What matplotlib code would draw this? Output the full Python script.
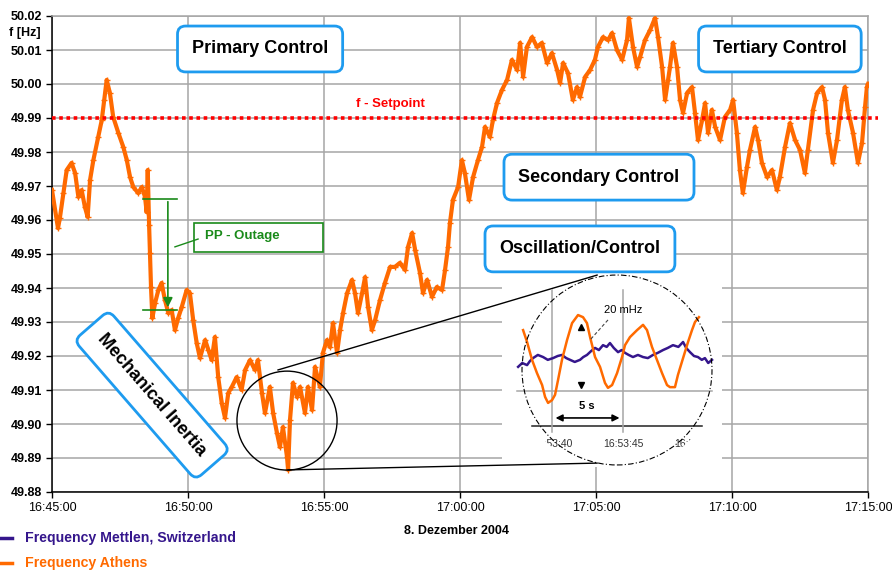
import matplotlib.pyplot as plt
from matplotlib.patches import Rectangle, Ellipse, PathPatch
from matplotlib.path import Path
from matplotlib.transforms import Affine2D
from matplotlib.lines import Line2D

plt.rcParams['font.family'] = ['Liberation Sans', 'DejaVu Sans']

# --- main trace: minutes after 16:45:00, frequency in Hz ---
minutes = [0.00, 0.22, 0.29, 0.42, 0.54, 0.72, 0.85, 0.97, 1.09, 1.21, 1.31, 1.40, 1.52, 1.70, 1.83,
           1.92, 2.01, 2.13, 2.25, 2.44, 2.62, 2.75, 2.87, 2.99, 3.17, 3.30, 3.42, 3.48, 3.52, 3.57,
           3.60, 3.64, 3.69, 3.79, 3.91, 4.03, 4.15, 4.28, 4.40, 4.52, 4.64, 4.77, 4.95, 5.07, 5.19,
           5.32, 5.44, 5.63, 5.75, 5.87, 5.99, 6.11, 6.24, 6.36, 6.48, 6.61, 6.79, 6.97, 7.10, 7.28,
           7.46, 7.57, 7.72, 7.83, 8.01, 8.13, 8.27, 8.38, 8.49, 8.64, 8.68, 8.75, 8.86, 9.01, 9.12,
           9.30, 9.41, 9.56, 9.67, 9.85, 9.96, 10.11, 10.22, 10.33, 10.48, 10.59, 10.70, 10.85, 11.03,
           11.14, 11.25, 11.40, 11.51, 11.62, 11.76, 11.88, 12.06, 12.24, 12.43, 12.61, 12.79, 12.98,
           13.09, 13.24, 13.35, 13.53, 13.64, 13.79, 13.97, 14.15, 14.34, 14.45, 14.56, 14.63, 14.74,
           14.93, 15.07, 15.18, 15.33, 15.48, 15.66, 15.81, 15.92, 16.10, 16.21, 16.36, 16.54, 16.73,
           16.91, 17.10, 17.21, 17.32, 17.46, 17.65, 17.83, 18.01, 18.20, 18.38, 18.57, 18.68, 18.79,
           18.97, 19.15, 19.30, 19.41, 19.60, 19.78, 19.96, 20.07, 20.26, 20.44, 20.59, 20.77, 20.96,
           21.14, 21.21, 21.36, 21.51, 21.62, 21.80, 21.99, 22.17, 22.28, 22.43, 22.54, 22.65, 22.72,
           22.83, 22.98, 23.09, 23.20, 23.35, 23.53, 23.64, 23.75, 23.90, 24.01, 24.12, 24.26, 24.38,
           24.56, 24.74, 24.93, 25.04, 25.18, 25.29, 25.40, 25.55, 25.66, 25.85, 25.96, 26.10, 26.29,
           26.47, 26.65, 26.76, 26.95, 27.13, 27.32, 27.50, 27.68, 27.79, 27.98, 28.13, 28.31, 28.42,
           28.53, 28.71, 28.86, 29.04, 29.15, 29.26, 29.45, 29.63, 29.78, 29.89, 29.96, 30.00]
freq_athens = [49.9688, 49.9576, 49.9606, 49.9679, 49.9747, 49.9768, 49.9738, 49.9668, 49.9688, 49.9638,
               49.9609, 49.9718, 49.9776, 49.9844, 49.9894, 49.9953, 50.0012, 49.9973, 49.9903, 49.9856,
               49.9815, 49.9776, 49.9726, 49.9697, 49.9679, 49.9697, 49.9668, 49.9623, 49.9747, 49.9585,
               49.9503, 49.9403, 49.9312, 49.9356, 49.9394, 49.9415, 49.9365, 49.9326, 49.9335, 49.9276,
               49.9312, 49.9344, 49.9394, 49.9385, 49.9306, 49.9238, 49.9194, 49.9247, 49.9218, 49.9188,
               49.9256, 49.9138, 49.9062, 49.9018, 49.9091, 49.9109, 49.9138, 49.9100, 49.9159, 49.9188,
               49.9159, 49.9188, 49.9091, 49.9032, 49.9109, 49.9032, 49.8974, 49.8932, 49.8991, 49.8903,
               49.8865, 49.9012, 49.9121, 49.9079, 49.9109, 49.9032, 49.9109, 49.9041, 49.9168, 49.9109,
               49.9209, 49.9247, 49.9226, 49.9297, 49.9209, 49.9276, 49.9326, 49.9385, 49.9424, 49.9385,
               49.9326, 49.9385, 49.9432, 49.9344, 49.9276, 49.9306, 49.9365, 49.9415, 49.9462, 49.9462,
               49.9474, 49.9453, 49.9521, 49.9562, 49.9512, 49.9444, 49.9385, 49.9424, 49.9374, 49.9403,
               49.9394, 49.9453, 49.9521, 49.9591, 49.9659, 49.9697, 49.9776, 49.9738, 49.9659, 49.9726,
               49.9776, 49.9815, 49.9874, 49.9844, 49.9894, 49.9944, 49.9982, 50.0012, 50.0071, 50.0041,
               50.0121, 50.0021, 50.0109, 50.0138, 50.0109, 50.0121, 50.0062, 50.0091, 50.0041, 50.0003,
               50.0062, 50.0032, 49.9953, 49.9991, 49.9962, 50.0021, 50.0041, 50.0071, 50.0109, 50.0138,
               50.0129, 50.0150, 50.0100, 50.0071, 50.0129, 50.0194, 50.0109, 50.0050, 50.0079, 50.0129,
               50.0159, 50.0194, 50.0138, 50.0050, 49.9953, 50.0012, 50.0050, 50.0121, 50.0050, 49.9953,
               49.9915, 49.9974, 49.9991, 49.9915, 49.9835, 49.9894, 49.9944, 49.9856, 49.9924, 49.9874,
               49.9835, 49.9903, 49.9924, 49.9953, 49.9856, 49.9747, 49.9679, 49.9756, 49.9806, 49.9874,
               49.9835, 49.9768, 49.9726, 49.9747, 49.9688, 49.9726, 49.9815, 49.9885, 49.9835, 49.9806,
               49.9738, 49.9806, 49.9924, 49.9974, 49.9991, 49.9953, 49.9856, 49.9768, 49.9835, 49.9953,
               49.9991, 49.9924, 49.9856, 49.9768, 49.9826, 49.9932, 49.9991, 50.0000]
# Mettlen follows Athens almost exactly at this scale and is drawn underneath it
freq_mettlen = freq_athens

setpoint = 49.99
y_ticks = [49.88, 49.89, 49.90, 49.91, 49.92, 49.93, 49.94, 49.95, 49.96, 49.97, 49.98, 49.99,
           50.00, 50.01, 50.02]
x_ticks = [0, 5, 10, 15, 20, 25, 30]
time_labels = ['16:45:00', '16:50:00', '16:55:00', '17:00:00', '17:05:00', '17:10:00', '17:15:00']

# --- zoomed oscillation: seconds after 16:53:00 ---
zoom_sec_athens = [37.96, 38.24, 38.59, 38.94, 39.30, 39.51, 39.72, 40.00, 40.21, 40.42, 40.70, 41.06,
                   41.41, 41.83, 42.18, 42.46, 42.68, 43.03, 43.38, 43.73, 43.94, 44.23, 44.58, 44.93,
                   45.14, 45.49, 45.99, 46.41, 46.69, 47.04, 47.39, 47.75, 48.10, 48.31, 48.66, 48.87,
                   49.23, 49.58, 49.86, 50.07, 50.35]
zoom_f_athens = [49.9174, 49.9140, 49.9089, 49.9051, 49.9017, 49.8983, 49.8966, 49.8974, 49.8989, 49.9031,
                 49.9089, 49.9146, 49.9194, 49.9217, 49.9211, 49.9194, 49.9154, 49.9097, 49.9069, 49.9023,
                 49.9009, 49.9017, 49.9051, 49.9097, 49.9131, 49.9154, 49.9174, 49.9189, 49.9174, 49.9126,
                 49.9089, 49.9051, 49.9017, 49.9011, 49.9011, 49.9046, 49.9094, 49.9140, 49.9174, 49.9197,
                 49.9211]
zoom_sec_mettlen = [37.61, 37.90, 38.24, 38.45, 38.66, 39.00, 39.37, 39.70, 40.07, 40.40, 40.70, 41.00,
                    41.27, 41.60, 41.97, 42.20, 42.46, 42.75, 43.03, 43.30, 43.59, 43.85, 44.08, 44.35,
                    44.65, 44.90, 45.14, 45.40, 45.70, 46.05, 46.41, 46.75, 47.11, 47.45, 47.82, 48.15,
                    48.52, 48.90, 49.23, 49.45, 49.72, 50.00, 50.28, 50.55, 50.77, 51.00, 51.27]
zoom_f_mettlen = [49.9069, 49.9080, 49.9074, 49.9086, 49.9094, 49.9103, 49.9097, 49.9089, 49.9094, 49.9100,
                  49.9103, 49.9094, 49.9089, 49.9083, 49.9089, 49.9097, 49.9103, 49.9114, 49.9123, 49.9117,
                  49.9131, 49.9126, 49.9137, 49.9123, 49.9111, 49.9117, 49.9109, 49.9103, 49.9097, 49.9103,
                  49.9097, 49.9094, 49.9103, 49.9109, 49.9117, 49.9123, 49.9131, 49.9126, 49.9140, 49.9123,
                  49.9111, 49.9100, 49.9097, 49.9089, 49.9094, 49.9080, 49.9089]
zoom_ticks = [40, 45, 50]
zoom_labels = ['16:53:40', '16:53:45', '16:53:50']

ORANGE = '#FF6A00'
PURPLE = '#35168C'
BLUE = '#1E9BEF'
GREEN = '#1A8A1A'
GRID = '#A6A6A6'

fig = plt.figure(figsize=(8.92, 5.71), dpi=100)
ax = fig.add_axes([52 / 892, 1 - 492 / 571, 816 / 892, 476 / 571])

ax.set_xlim(0, 30)
ax.set_ylim(49.88, 50.02)
ax.set_yticks(y_ticks)
ax.set_yticklabels([f'{v:.2f}' for v in y_ticks], fontweight='bold', fontsize=9)
ax.set_xticks(x_ticks)
ax.set_xticklabels(time_labels, fontsize=9)
ax.tick_params(axis='both', direction='out', length=4, width=1, pad=3, color='black')
ax.grid(True, color=GRID, linewidth=1.1)
ax.set_axisbelow(True)
for side in ['top', 'right']:
    ax.spines[side].set_color(GRID)
    ax.spines[side].set_linewidth(1.1)
for side in ['left', 'bottom']:
    ax.spines[side].set_linewidth(1.1)

# blank panel behind the zoomed view
ax.add_patch(Rectangle((16.54, 49.8874), 8.09, 0.0573, facecolor='white', edgecolor='none', zorder=1))

ax.plot(minutes, freq_mettlen, color=PURPLE, linewidth=1.2, zorder=2)
ax.plot(minutes, freq_athens, color=ORANGE, linewidth=3.0, marker='+', markersize=4.5,
        markeredgewidth=1.0, zorder=3)

ax.plot([0, 30.35], [setpoint, setpoint], color='#FF0000', linewidth=2.6,
        linestyle=(0, (1, 1)), clip_on=False, zorder=4)
ax.text(12.43, 49.9941, 'f - Setpoint', color='#FF0000', fontsize=9.5, fontweight='bold',
        ha='center', va='center', zorder=5)

box = dict(boxstyle='round,pad=0.8,rounding_size=0.45', facecolor='white', edgecolor=BLUE, linewidth=2)
for label, x, y in [('Primary Control', 7.65, 50.0103), ('Tertiary Control', 26.76, 50.0103),
                    ('Secondary Control', 20.11, 49.9726), ('Oscillation/Control', 19.41, 49.9515)]:
    ax.text(x, y, label, fontsize=13, fontweight='bold', ha='center', va='center', bbox=box, zorder=6)
ax.text(3.68, 49.9085, 'Mechanical Inertia', fontsize=13, fontweight='bold', ha='center', va='center',
        rotation=-49, rotation_mode='anchor', bbox=box, zorder=6)

# power plant outage marker
ax.plot([3.35, 4.60], [49.9662, 49.9662], color=GREEN, linewidth=1.2, zorder=5)
ax.plot([3.35, 4.60], [49.9335, 49.9335], color=GREEN, linewidth=1.2, zorder=5)
ax.annotate('', xy=(4.26, 49.9335), xytext=(4.26, 49.9662),
            arrowprops=dict(arrowstyle='-|>', color=GREEN, lw=1.2, mutation_scale=14), zorder=5)
ax.add_patch(Rectangle((5.22, 49.9506), 4.74, 0.0085, facecolor='white', edgecolor=GREEN,
                       linewidth=1.2, zorder=5))
ax.text(5.63, 49.9552, 'PP - Outage', color=GREEN, fontsize=9.5, fontweight='bold',
        ha='left', va='center', zorder=6)
ax.plot([4.52, 5.37], [49.9521, 49.9544], color=GREEN, linewidth=1, zorder=5)

# magnifier circle and its connectors
ax.add_patch(Ellipse((8.64, 49.9010), 3.68, 0.0291, fill=False, edgecolor='black', linewidth=1, zorder=5))
ax.plot([8.31, 20.04], [49.9159, 49.9438], color='black', linewidth=1, zorder=5)
ax.plot([8.68, 20.04], [49.8865, 49.8885], color='black', linewidth=1, zorder=5)

# zoomed view of the oscillation
axz = fig.add_axes([515 / 892, 1 - 468 / 571, 200 / 892, 196 / 571])
axz.set_xlim(37.39, 51.48)
axz.set_ylim(49.878, 49.934)
axz.axis('off')
axz.plot([37.54, 51.27], [49.900, 49.900], color=GRID, linewidth=1.1, clip_on=False)
axz.plot([38.59, 50.56], [49.890, 49.890], color='#222222', linewidth=1.1, clip_on=False)
for t in zoom_ticks[:2]:
    axz.plot([t, t], [49.8883, 49.9289], color=GRID, linewidth=1.1, clip_on=False)
axz.plot(zoom_sec_mettlen, zoom_f_mettlen, color=PURPLE, linewidth=1.8, clip_on=False)
axz.plot(zoom_sec_athens, zoom_f_athens, color=ORANGE, linewidth=1.8, clip_on=False)
for t, lab in zip(zoom_ticks, zoom_labels):
    axz.text(t, 49.8849, lab, fontsize=7.5, color='#333333', ha='center', va='center', zorder=3)
axz.annotate('', xy=(40.05, 49.8923), xytext=(44.95, 49.8923),
             arrowprops=dict(arrowstyle='<|-|>', color='black', lw=1.2, mutation_scale=10))
axz.text(42.46, 49.8956, '5 s', fontsize=8, fontweight='bold', ha='center', va='center')
axz.plot([42.04], [49.9183], marker='^', color='black', markersize=5, clip_on=False)
axz.plot([42.04], [49.9017], marker='v', color='black', markersize=5, clip_on=False)
axz.text(45.0, 49.9231, '20 mHz', fontsize=8, ha='center', va='center')
axz.plot([43.94, 42.68], [49.9203, 49.9146], color='#444444', linewidth=0.8, linestyle=(0, (3, 2)))

# hide the parts of the time labels that fall outside the magnifier
ring = Affine2D().scale(0.505, 0.515).translate(0.51, 0.5)
circle_path = ring.transform_path(Path.unit_circle())
outer = Path([(-0.1, -0.1), (-0.1, 1.1), (1.1, 1.1), (1.1, -0.1), (-0.1, -0.1)],
             [Path.MOVETO, Path.LINETO, Path.LINETO, Path.LINETO, Path.CLOSEPOLY])
mask = PathPatch(Path.make_compound_path(outer, circle_path), facecolor='white', edgecolor='none',
                 transform=axz.transAxes, zorder=4)
axz.add_patch(mask)
mask.set_clip_path(Rectangle((0, 0.07), 1.0, 0.105, transform=axz.transAxes))
axz.add_patch(Ellipse((0.51, 0.5), 0.95, 0.969, transform=axz.transAxes, fill=False, zorder=5,
                      edgecolor='black', linewidth=0.8, linestyle=(0, (5, 2, 1, 2)), clip_on=False))

# axis captions and legend
fig.text(25 / 892, 1 - 33 / 571, 'f [Hz]', fontsize=9, fontweight='bold', ha='center', va='center')
fig.text(457 / 892, 1 - 531 / 571, '8. Dezember 2004', fontsize=9, fontweight='bold',
         ha='center', va='center')
for y_px, color, label in [(538, PURPLE, 'Frequency Mettlen, Switzerland'),
                           (563, ORANGE, 'Frequency Athens')]:
    fig.add_artist(Line2D([0, 12 / 892], [1 - y_px / 571] * 2, color=color, linewidth=2.5))
    fig.text(25 / 892, 1 - y_px / 571, label, color=color, fontsize=10.2, fontweight='bold',
             ha='left', va='center')

fig.savefig('out.png', dpi=100)
